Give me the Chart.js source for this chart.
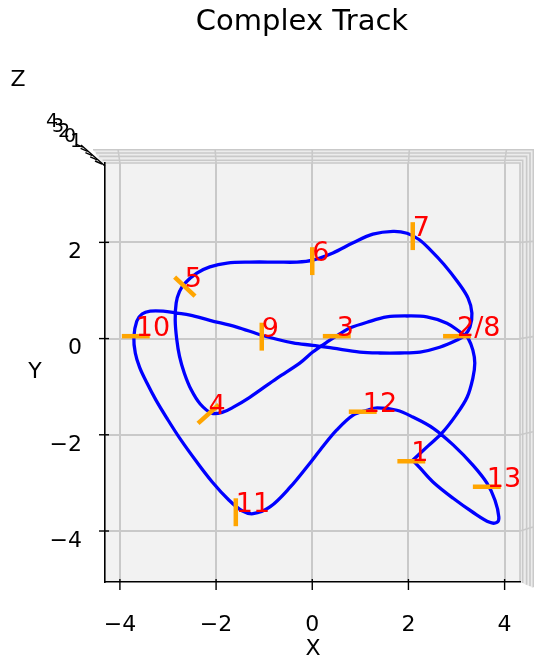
<!DOCTYPE html>
<html>
<head>
<meta charset="utf-8">
<title>Complex Track</title>
<script src="https://cdn.jsdelivr.net/npm/chart.js@4.4.1/dist/chart.umd.min.js"></script>
<style>
  html, body { margin: 0; padding: 0; background: #fff; }
  #wrap { width: 534px; height: 662px; }
</style>
</head>
<body>
<div id="wrap"><canvas id="trackChart" width="534" height="662"></canvas></div>
<script>
// Track centre line, in order from gate 1 round the circuit and back to 1
const trackX = [2.09, 2.41, 2.70, 2.99, 3.22, 3.34, 3.38, 3.34, 3.24, 3.17,
  3.07, 2.80, 2.38, 1.97, 1.55, 1.14, 0.78, 0.64, 0.31, 0.01,
  -0.26, -0.73, -1.30, -1.65, -1.86, -2.09, -2.33, -2.52, -2.66, -2.76,
  -2.82, -2.85, -2.83, -2.76, -2.65, -2.40, -2.13, -1.77, -1.30, -0.73,
  -0.32, 0.01, 0.43, 0.85, 1.26, 1.68, 1.97, 2.22, 2.45, 2.74,
  3.03, 3.24, 3.32, 3.28, 3.17, 3.01, 2.65, 2.24, 1.82, 1.41,
  0.99, 0.43, 0.01, -0.40, -1.05, -1.57, -2.13, -2.54, -2.81, -3.10,
  -3.37, -3.54, -3.65, -3.71, -3.68, -3.59, -3.44, -3.25, -3.02, -2.75,
  -2.42, -2.08, -1.73, -1.46, -1.23, -0.88, -0.46, -0.05, 0.16, 0.51, 0.85,
  1.14, 1.35, 1.76, 2.09, 2.51, 2.93, 3.34, 3.63, 3.80, 3.88,
  3.84, 3.69, 3.34, 2.93, 2.51, 2.24, 2.09];
const trackY = [-2.53, -2.23, -1.96, -1.59, -1.22, -0.82, -0.51, -0.24, 0.01, 0.07,
  0.14, 0.32, 0.45, 0.47, 0.45, 0.34, 0.22, 0.14, -0.07, -0.28,
  -0.51, -0.82, -1.22, -1.43, -1.53, -1.55, -1.36, -1.06, -0.72, -0.37,
  0.00, 0.38, 0.74, 0.98, 1.15, 1.36, 1.49, 1.57, 1.59, 1.59,
  1.59, 1.63, 1.78, 1.99, 2.17, 2.23, 2.19, 2.06, 1.85, 1.54,
  1.17, 0.84, 0.53, 0.24, 0.07, -0.03, -0.18, -0.28, -0.30, -0.30,
  -0.28, -0.20, -0.14, -0.09, 0.07, 0.24, 0.38, 0.49, 0.53, 0.57,
  0.57, 0.51, 0.36, 0.03, -0.30, -0.60, -0.92, -1.28, -1.66, -2.08,
  -2.54, -2.98, -3.36, -3.58, -3.64, -3.50, -3.09, -2.59, -2.32, -1.90, -1.59,
  -1.49, -1.44, -1.49, -1.63, -1.86, -2.21, -2.63, -3.00, -3.36, -3.71,
  -3.82, -3.82, -3.61, -3.32, -2.98, -2.69, -2.53];

// Gates: label, centre and heading of the gate bar (degrees)
const gateLabels = ['1', '2/8', '3', '4', '5', '6', '7', '9', '10', '11', '12', '13'];
const gateX = [2.06, 3.01, 0.51, -2.16, -2.65, 0.00, 2.09, -1.05, -3.67, -1.59, 1.05, 3.63];
const gateY = [-2.55, 0.05, 0.05, -1.57, 1.08, 1.61, 2.13, 0.04, 0.05, -3.61, -1.52, -3.08];
const gateAngle = [0, 0, 0, 42, -43, 90, 90, 90, 0, 90, 0, 0];
const gateHalf = 0.29;

const xTicks = [-4, -2, 0, 2, 4];
const yTicks = [-4, -2, 0, 2];
const zTickLabels = ['4', '3', '2', '0', '1'];

const FONT = "'DejaVu Sans', sans-serif";
const GRID = '#c9c9c9';

const datasets = [{
  label: 'track',
  data: trackX.map((x, i) => ({ x, y: trackY[i] })),
  showLine: true,
  borderColor: '#0000ff',
  borderWidth: 3.3,
  pointRadius: 0,
  tension: 0.35,
  fill: false,
  order: 2
}];

gateLabels.forEach((lab, i) => {
  const t = gateAngle[i] * Math.PI / 180;
  const dx = gateHalf * Math.cos(t), dy = gateHalf * Math.sin(t);
  datasets.push({
    label: 'gate ' + lab,
    data: [{ x: gateX[i] - dx, y: gateY[i] - dy }, { x: gateX[i] + dx, y: gateY[i] + dy }],
    showLine: true,
    borderColor: '#ffa500',
    borderWidth: 4.5,
    borderCapStyle: 'butt',
    pointRadius: 0,
    order: 1
  });
});

// pane, side walls and the z axis of the 3d box
const boxPlugin = {
  id: 'box3d',
  beforeDraw(chart) {
    const ctx = chart.ctx, a = chart.chartArea;
    const xs = chart.scales.x, ys = chart.scales.y;
    ctx.save();
    ctx.fillStyle = '#fff';
    ctx.fillRect(0, 0, chart.width, chart.height);

    // walls seen edge-on along the top and the right
    ctx.fillStyle = '#ececec';
    ctx.beginPath();
    ctx.moveTo(a.left - 4, a.top);
    ctx.lineTo(a.left - 12, a.top - 14);
    ctx.lineTo(a.right + 13, a.top - 14);
    ctx.lineTo(a.right + 13, a.bottom + 6);
    ctx.lineTo(a.right, a.bottom);
    ctx.lineTo(a.right, a.top);
    ctx.closePath();
    ctx.fill();

    ctx.fillStyle = '#f2f2f2';
    ctx.fillRect(a.left, a.top, a.right - a.left, a.bottom - a.top);

    ctx.strokeStyle = GRID;
    ctx.lineWidth = 1.6;
    [0, 2.7, 6.6, 10, 13.3].forEach(d => {
      ctx.beginPath();
      ctx.moveTo(a.left - d * 0.9, a.top - d);
      ctx.lineTo(a.right + d, a.top - d);
      ctx.lineTo(a.right + d, a.bottom + d * 0.4);
      ctx.stroke();
    });
    // grid lines running up the walls
    xTicks.forEach(v => {
      const px = xs.getPixelForValue(v);
      ctx.beginPath();
      ctx.moveTo(px, a.top);
      ctx.lineTo(px + (px - 312) * 0.01, a.top - 14);
      ctx.stroke();
    });
    yTicks.forEach(v => {
      const py = ys.getPixelForValue(v);
      ctx.beginPath();
      ctx.moveTo(a.right, py);
      ctx.lineTo(a.right + 13, py - (py - 339) * 0.01 - 2);
      ctx.stroke();
    });

    // z axis, pointing at the viewer
    ctx.strokeStyle = '#000';
    ctx.lineWidth = 1.4;
    ctx.beginPath();
    ctx.moveTo(a.left, a.top + 3);
    ctx.lineTo(a.left - 24, a.top - 18);
    ctx.stroke();
    for (let i = 0; i < 5; i++) {
      const px = a.left - 3 - i * 4.8, py = a.top + 1 - i * 4.2;
      ctx.beginPath();
      ctx.moveTo(px, py);
      ctx.lineTo(px - 7, py - 3);
      ctx.stroke();
    }
    ctx.fillStyle = '#000';
    ctx.font = '19px ' + FONT;
    ctx.textAlign = 'center';
    ctx.textBaseline = 'middle';
    zTickLabels.forEach((t, i) => {
      ctx.fillText(t, 52 + i * 6, 122 + i * 5);
    });
    ctx.restore();
  },
  afterDatasetsDraw(chart) {
    const ctx = chart.ctx;
    const xs = chart.scales.x, ys = chart.scales.y;
    ctx.save();
    ctx.fillStyle = '#ff0000';
    ctx.font = '27px ' + FONT;
    ctx.textAlign = 'left';
    ctx.textBaseline = 'alphabetic';
    gateLabels.forEach((lab, i) => {
      ctx.fillText(lab, xs.getPixelForValue(gateX[i]), ys.getPixelForValue(gateY[i]));
    });
    ctx.restore();
  },
  afterDraw(chart) {
    const ctx = chart.ctx, a = chart.chartArea;
    const xs = chart.scales.x, ys = chart.scales.y;
    ctx.save();
    ctx.strokeStyle = '#000';
    ctx.lineWidth = 1.4;
    ctx.fillStyle = '#000';
    ctx.font = '22px ' + FONT;
    ctx.textBaseline = 'middle';

    ctx.textAlign = 'center';
    xTicks.forEach(v => {
      const px = xs.getPixelForValue(v);
      ctx.beginPath();
      ctx.moveTo(px, a.bottom - 3);
      ctx.lineTo(px, a.bottom + 8);
      ctx.stroke();
      ctx.fillText(v < 0 ? '\u2212' + Math.abs(v) : String(v), px, 625);
    });

    ctx.textAlign = 'right';
    yTicks.forEach(v => {
      const py = ys.getPixelForValue(v);
      ctx.beginPath();
      ctx.moveTo(a.left - 6, py);
      ctx.lineTo(a.left + 4, py);
      ctx.stroke();
      ctx.fillText(v < 0 ? '\u2212' + Math.abs(v) : String(v), 82, py + 10);
    });

    ctx.textAlign = 'center';
    ctx.fillText('X', 313, 649);
    ctx.fillText('Y', 35, 372);
    ctx.fillText('Z', 18, 80);

    ctx.font = '29px ' + FONT;
    ctx.fillText('Complex Track', 302, 22);
    ctx.restore();
  }
};

const ctx = document.getElementById('trackChart').getContext('2d');
const trackChart = new Chart(ctx, {
  type: 'scatter',
  data: { datasets },
  options: {
    responsive: false,
    animation: false,
    devicePixelRatio: 1,
    layout: { padding: { left: 105, right: 14, top: 163, bottom: 80 } },
    plugins: { legend: { display: false }, tooltip: { enabled: false } },
    scales: {
      x: {
        type: 'linear',
        min: -4.31,
        max: 4.32,
        afterBuildTicks: s => { s.ticks = xTicks.map(v => ({ value: v })); },
        ticks: { display: false },
        grid: { color: GRID, lineWidth: 2, drawTicks: false },
        border: { display: true, color: '#000', width: 1.6 }
      },
      y: {
        type: 'linear',
        min: -5.06,
        max: 3.65,
        afterBuildTicks: s => { s.ticks = yTicks.map(v => ({ value: v })); },
        ticks: { display: false },
        grid: { color: GRID, lineWidth: 2, drawTicks: false },
        border: { display: true, color: '#000', width: 1.6 }
      }
    }
  },
  plugins: [boxPlugin]
});
</script>
</body>
</html>
